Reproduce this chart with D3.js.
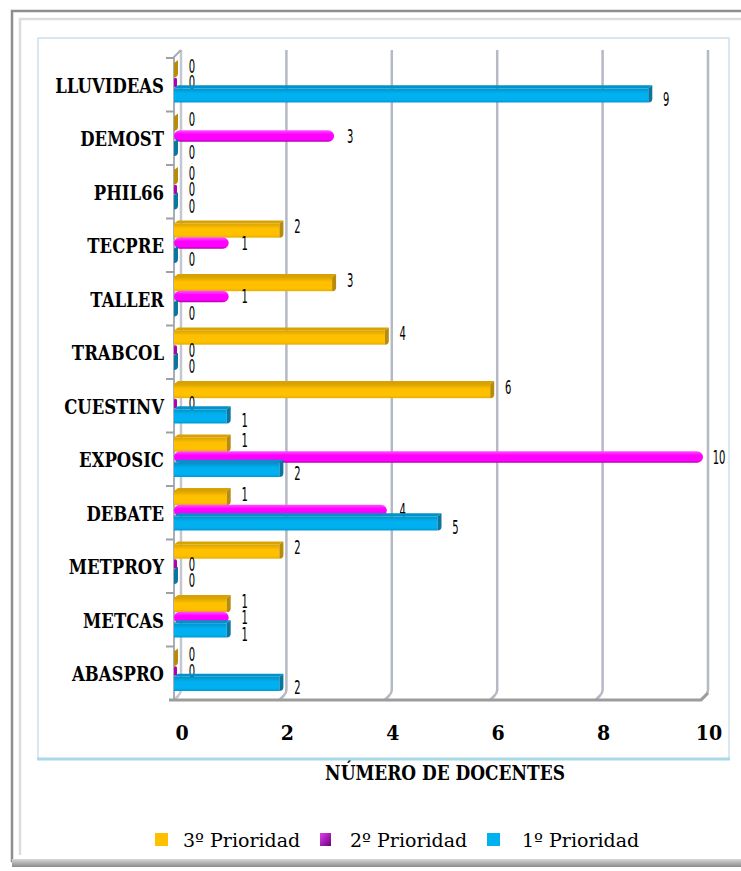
<!DOCTYPE html>
<html>
<head>
<meta charset="utf-8">
<script src="https://cdn.jsdelivr.net/npm/d3@7/dist/d3.min.js"></script>
<style>
  body { margin: 0; background: #fff; }
  svg { display: block; }
</style>
</head>
<body>
<script>
// data
var categories = ['LLUVIDEAS', 'DEMOST', 'PHIL66', 'TECPRE', 'TALLER', 'TRABCOL',
                  'CUESTINV', 'EXPOSIC', 'DEBATE', 'METPROY', 'METCAS', 'ABASPRO'];
var prioridad3 = [0, 0, 0, 2, 3, 4, 6, 1, 1, 2, 1, 0];
var prioridad2 = [0, 3, 0, 1, 1, 0, 0, 10, 4, 0, 1, 0];
var prioridad1 = [9, 0, 0, 0, 0, 0, 1, 2, 5, 0, 1, 2];
var seriesNames = ['3º Prioridad', '2º Prioridad', '1º Prioridad'];
var xTicks = [0, 2, 4, 6, 8, 10];
var axisTitle = 'NÚMERO DE DOCENTES';

var W = 741, H = 871;
var plot = {left: 174, right: 701, top: 58, bottom: 700};
var depth = 7;
var serif = '"DejaVu Serif", serif';

var series = [
  {name: seriesNames[0], values: prioridad3, main: '#FFC000', top: '#D9A200', cap: '#B88C08', low: '#E8AE00', round: false, lab: -4},
  {name: seriesNames[1], values: prioridad2, main: '#FF00FF', top: '#FF55FF', cap: '#B000B0', low: '#A800A8', round: true, lab: 0},
  {name: seriesNames[2], values: prioridad1, main: '#00B0F0', top: '#0092C8', cap: '#0A76A0', low: '#0098D4', round: false, lab: 4}
];

var x = d3.scaleLinear().domain([0, 10]).range([plot.left, plot.right]);
var y = d3.scaleBand().domain(categories).range([plot.top, plot.bottom]);
var ys = d3.scaleBand().domain(seriesNames).range([5, 43]);

var svg = d3.select('body').append('svg')
  .attr('width', W)
  .attr('height', H);

var defs = svg.append('defs');
series.forEach(function(s, i) {
  var gr = defs.append('linearGradient')
    .attr('id', 'g' + i)
    .attr('x1', 0).attr('y1', 0).attr('x2', 0).attr('y2', 1);
  gr.append('stop').attr('offset', '0%').attr('stop-color', s.top);
  gr.append('stop').attr('offset', '35%').attr('stop-color', s.main);
  gr.append('stop').attr('offset', '80%').attr('stop-color', s.main);
  gr.append('stop').attr('offset', '100%').attr('stop-color', s.low);
});
var shadow = defs.append('linearGradient')
  .attr('id', 'shadow')
  .attr('x1', 0).attr('y1', 0).attr('x2', 0).attr('y2', 1);
shadow.append('stop').attr('offset', '0%').attr('stop-color', '#d8d8d8');
shadow.append('stop').attr('offset', '100%').attr('stop-color', '#8a8a8a');
var legMag = defs.append('linearGradient')
  .attr('id', 'legmag')
  .attr('x1', 0).attr('y1', 0).attr('x2', 1).attr('y2', 1);
legMag.append('stop').attr('offset', '0%').attr('stop-color', '#e040f0');
legMag.append('stop').attr('offset', '100%').attr('stop-color', '#6a0078');

// frames
svg.append('rect')
  .attr('x', 12).attr('y', 11)
  .attr('width', W).attr('height', 850)
  .attr('fill', '#fff')
  .attr('stroke', '#8e8e8e')
  .attr('stroke-width', 2.5);
svg.append('rect')
  .attr('x', 12).attr('y', 859)
  .attr('width', W).attr('height', 8)
  .attr('fill', 'url(#shadow)');
svg.append('path')
  .attr('d', 'M20,855V19H' + W)
  .attr('fill', 'none')
  .attr('stroke', '#dcdcdc')
  .attr('stroke-width', 2.5);
svg.append('rect')
  .attr('x', 38).attr('y', 38)
  .attr('width', 691).attr('height', 721)
  .attr('fill', 'none')
  .attr('stroke', '#cfe0ec')
  .attr('stroke-width', 1.5);
svg.append('line')
  .attr('x1', 37).attr('x2', 730)
  .attr('y1', 759).attr('y2', 759)
  .attr('stroke', '#a9d8e6')
  .attr('stroke-width', 3);

// back wall gridlines with the bend into the floor
svg.append('g').selectAll('path')
  .data(xTicks)
  .enter().append('path')
  .attr('d', function(d) {
    var xb = x(d) + depth;
    return 'M' + xb + ',' + (plot.top - 8) +
           'V' + (plot.bottom - depth - 3) +
           'Q' + xb + ',' + (plot.bottom - depth) + ' ' + (xb - 3) + ',' + (plot.bottom - depth + 3) +
           'L' + x(d) + ',' + plot.bottom;
  })
  .attr('fill', 'none')
  .attr('stroke', function(d) { return d === 0 ? '#c4c7cf' : '#b5b9c4'; })
  .attr('stroke-width', 2.5);

// left wall front edge
svg.append('path')
  .attr('d', 'M' + plot.left + ',' + plot.bottom + 'V' + (plot.top - 1) + 'L' + (plot.left + depth) + ',' + (plot.top - 8))
  .attr('fill', 'none')
  .attr('stroke', '#a9adb5')
  .attr('stroke-width', 2);

// floor front edge
svg.append('path')
  .attr('d', 'M' + (plot.left - 5) + ',' + plot.bottom + 'H' + x(10) + 'L' + (x(10) + depth) + ',' + (plot.bottom - depth))
  .attr('fill', 'none')
  .attr('stroke', '#9c9c9c')
  .attr('stroke-width', 3);

// category tick marks
svg.append('g').selectAll('line')
  .data(categories)
  .enter().append('line')
  .attr('x1', plot.left - 8).attr('x2', plot.left)
  .attr('y1', function(d) { return y(d); })
  .attr('y2', function(d) { return y(d); })
  .attr('stroke', '#a0a0a0')
  .attr('stroke-width', 2);

// bars
var rows = [];
categories.forEach(function(c, i) {
  series.forEach(function(s, j) {
    rows.push({cat: c, s: s, j: j, v: s.values[i]});
  });
});

var bars = svg.append('g').selectAll('g')
  .data(rows)
  .enter().append('g');

bars.each(function(d) {
  var g = d3.select(this);
  var x0 = x(0), x1 = x(d.v);
  var by = y(d.cat) + ys(d.s.name);
  var h = d.s.round ? ys.bandwidth() - 1 : ys.bandwidth() + 1.5;
  if (d.s.round) {
    by += 1;
    if (d.v > 0) {
      g.append('rect')
        .attr('x', x0).attr('y', by)
        .attr('width', x1 - x0 + 2).attr('height', h)
        .attr('rx', h / 2).attr('ry', h / 2)
        .attr('fill', 'url(#g' + d.j + ')');
    } else {
      g.append('rect')
        .attr('x', x0).attr('y', by + 1)
        .attr('width', 3).attr('height', h - 2)
        .attr('rx', 1.5)
        .attr('fill', d.s.cap);
    }
    return;
  }
  var t = 4;
  g.append('path')
    .attr('d', 'M' + x0 + ',' + by + 'L' + (x0 + t) + ',' + (by - 3) + 'H' + (x1 + t) + 'L' + x1 + ',' + by + 'Z')
    .attr('fill', d.s.top);
  if (d.v > 0) {
    g.append('rect')
      .attr('x', x0).attr('y', by)
      .attr('width', x1 - x0).attr('height', h)
      .attr('fill', 'url(#g' + d.j + ')');
  }
  g.append('path')
    .attr('d', 'M' + x1 + ',' + by + 'L' + (x1 + t) + ',' + (by - 3) + 'V' + (by + h - 4) +
               'Q' + (x1 + t) + ',' + (by + h) + ' ' + x1 + ',' + (by + h) + 'Z')
    .attr('fill', d.s.cap);
});

// value labels (tall, narrow digits)
bars.append('text')
  .attr('transform', function(d) {
    var ly = y(d.cat) + ys(d.s.name) + ys.bandwidth() / 2 + d.s.lab;
    return 'translate(' + (x(d.v) + 18) + ',' + ly + ') scale(0.5,1)';
  })
  .attr('dy', '0.36em')
  .attr('text-anchor', 'middle')
  .attr('font-family', '"DejaVu Sans", sans-serif')
  .attr('font-size', 20)
  .attr('fill', '#000')
  .text(function(d) { return d.v; });

// category labels
svg.append('g').selectAll('text')
  .data(categories)
  .enter().append('text')
  .attr('transform', function(d) {
    return 'translate(' + (plot.left - 10) + ',' + (y(d) + y.bandwidth() / 2 + 1) + ') scale(1,1.2)';
  })
  .attr('dy', '0.36em')
  .attr('text-anchor', 'end')
  .attr('font-family', serif)
  .attr('font-weight', 'bold')
  .attr('font-size', 16.5)
  .attr('fill', '#000')
  .text(function(d) { return d; });

// x tick labels
svg.append('g').selectAll('text')
  .data(xTicks)
  .enter().append('text')
  .attr('transform', function(d) { return 'translate(' + (x(d) + depth + 1) + ',740) scale(1,1.1)'; })
  .attr('text-anchor', 'middle')
  .attr('font-family', serif)
  .attr('font-weight', 'bold')
  .attr('font-size', 19)
  .attr('fill', '#000')
  .text(function(d) { return d; });

svg.append('text')
  .attr('transform', 'translate(445,780) scale(1,1.15)')
  .attr('text-anchor', 'middle')
  .attr('font-family', serif)
  .attr('font-weight', 'bold')
  .attr('font-size', 17)
  .attr('fill', '#000')
  .text(axisTitle);

// legend
var legX = d3.scaleOrdinal().domain(seriesNames).range([155, 320, 487]);
var leg = svg.append('g').selectAll('g')
  .data(series)
  .enter().append('g')
  .attr('transform', function(d) { return 'translate(' + legX(d.name) + ',840)'; });

leg.append('rect')
  .attr('x', 0).attr('y', -7)
  .attr('width', function(d) { return d.round ? 11 : 13; })
  .attr('height', 13)
  .attr('fill', function(d) { return d.round ? 'url(#legmag)' : d.main; });

leg.append('text')
  .attr('x', function(d, i) { return [28, 30, 35][i]; })
  .attr('y', 0)
  .attr('dy', '0.36em')
  .attr('font-family', serif)
  .attr('font-size', 19)
  .attr('fill', '#000')
  .text(function(d) { return d.name; });
</script>
</body>
</html>
